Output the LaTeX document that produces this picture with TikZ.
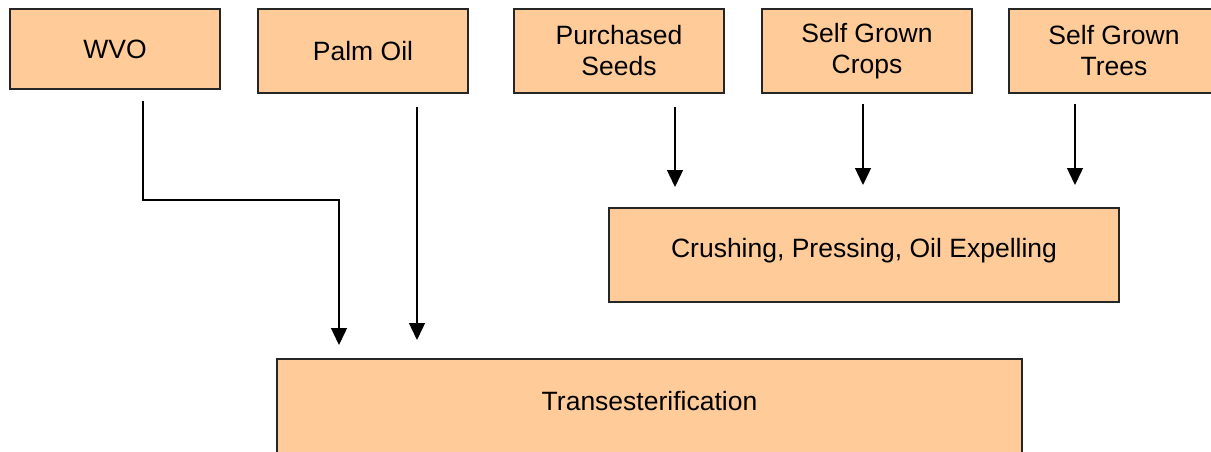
\documentclass[tikz,border=0pt]{standalone}
\usepackage{fontspec}
\setmainfont{Liberation Sans}
\usepackage{tikz}
\usetikzlibrary{arrows.meta}
\usetikzlibrary{calc}

\begin{document}
\begin{tikzpicture}[x=1pt, y=-1pt,
 every text node part/.style={align=center},
 every node/.style={font=\fontsize{26.5}{31}\selectfont},
block/.style={rectangle, inner sep=0pt, minimum width=210pt, minimum height=80pt, line width=2pt, draw=black!85, fill=oil},
str/.style={rectangle, inner sep=0pt},
arrow/.style={-{Triangle[width=16pt, length=17pt]}, line width=1.4pt}]

    \definecolor{oil}{RGB}{255,204,153}

	\path[use as bounding box, clip] (0,0) rectangle (1211,451);

	\node[block] (wvo) at (115,49) {WVO};
	\node[block, minimum height=84pt] (palm) at (363,51) {Palm Oil};
	\node[block, minimum height=84pt] (seeds) at (619,51) {Purchased\\ Seeds};
	\node[block, minimum height=84pt] (crops) at (867,51) {Self Grown\\ Crops};
	\node[block, minimum height=84pt] (trees) at (1114,51) {Self Grown\\ Trees};
	\node[block, minimum width=510pt, minimum height=94pt] (crush) at (864,255) {};
	\node[str] (crushtxt) at (864,251) {Crushing, Pressing, Oil Expelling};
	\node[block, minimum width=745pt, minimum height=104pt] (trans) at (649.5,411) {};
	\node[str] (transtxt) at (649.5,401) {Transesterification};

	% free ends of the connectors
	\coordinate (wvoa) at (143,101);
	\coordinate (wvob) at (339,345);
	\coordinate (palma) at (417,107);
	\coordinate (palmb) at (417,340);
	\coordinate (seedsa) at (675,107);
	\coordinate (seedsb) at (675,187);
	\coordinate (cropsa) at (863,104);
	\coordinate (cropsb) at (863,185);
	\coordinate (treesa) at (1075,104);
	\coordinate (treesb) at (1075,185);

	\draw[arrow] (wvoa) |- (200,200) -| (wvob);
	\draw (palma) edge [arrow] (palmb);
	\draw (seedsa) edge [arrow] (seedsb);
	\draw (cropsa) edge [arrow] (cropsb);
	\draw (treesa) edge [arrow] (treesb);
\end{tikzpicture}
\end{document}
